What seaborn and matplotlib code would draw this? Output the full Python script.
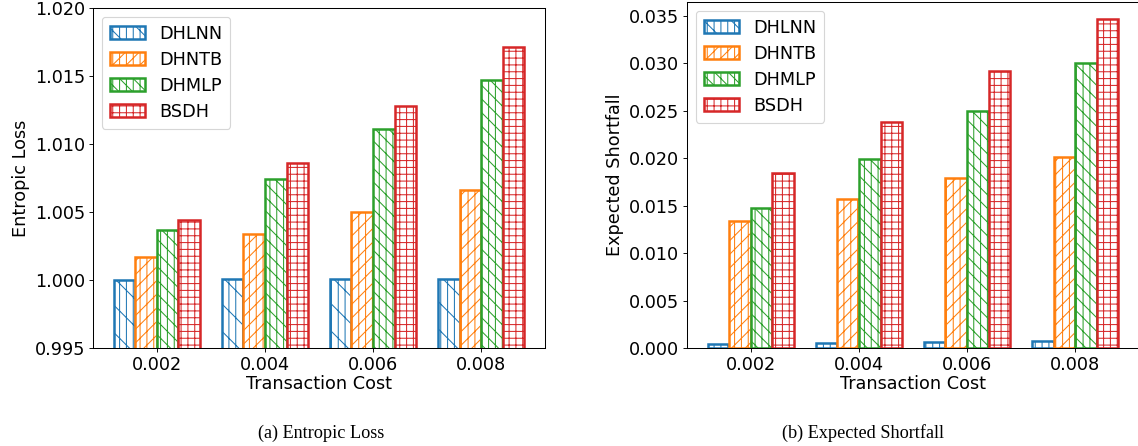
import matplotlib
matplotlib.use("Agg")
import matplotlib.pyplot as plt
import matplotlib.ticker as mticker
import seaborn as sns
import pandas as pd

sns.set_theme(style="ticks", rc={
    'text.color': 'black', 'axes.labelcolor': 'black',
    'xtick.color': 'black', 'ytick.color': 'black',
    'axes.edgecolor': 'black', 'axes.linewidth': 0.9,
})
plt.rcParams['font.family'] = ['DejaVu Sans']
plt.rcParams['hatch.linewidth'] = 0.9

costs = ['0.002', '0.004', '0.006', '0.008']
methods = ['DHLNN', 'DHNTB', 'DHMLP', 'BSDH']
colors = ['#1f77b4', '#ff7f0e', '#2ca02c', '#d62728']
hatches = ['||\\', '||//', '||\\\\', '++']

entropic = {
    'DHLNN': [1.00003, 1.00005, 1.00008, 1.0001],
    'DHNTB': [1.0017, 1.0034, 1.0050, 1.0066],
    'DHMLP': [1.0037, 1.0074, 1.0111, 1.0147],
    'BSDH':  [1.0044, 1.0086, 1.0128, 1.0171],
}
shortfall = {
    'DHLNN': [0.0004, 0.0005, 0.0006, 0.0007],
    'DHNTB': [0.0134, 0.0157, 0.0179, 0.0201],
    'DHMLP': [0.0148, 0.0199, 0.0250, 0.0301],
    'BSDH':  [0.0185, 0.0238, 0.0292, 0.0347],
}

FS = 15.5


def long_df(d):
    rows = []
    for m in methods:
        for c, v in zip(costs, d[m]):
            rows.append({'Transaction Cost': c, 'Method': m, 'value': v})
    return pd.DataFrame(rows)


def draw(ax, d, ylabel):
    df = long_df(d)
    sns.barplot(data=df, x='Transaction Cost', y='value', hue='Method',
                hue_order=methods, palette=colors, ax=ax, legend=False)
    for cont, col, h, m in zip(ax.containers, colors, hatches, methods):
        for p in cont:
            p.set_facecolor('white')
            p.set_hatch(h)
            p.set_edgecolor(col)
            p.set_linewidth(2.2)
        cont.set_label(m)
    ax.legend(handles=list(ax.containers), labels=methods, loc='upper left',
              fontsize=FS, handlelength=2.0, borderpad=0.45, labelspacing=0.45)
    ax.set_xlim(-0.59, 3.59)
    ax.set_xlabel('Transaction Cost', fontsize=FS, labelpad=1)
    ax.set_ylabel(ylabel, fontsize=FS)
    ax.tick_params(labelsize=FS, length=3.5, width=0.8)


W, H = 1138, 446
DPI = 82
fig = plt.figure(figsize=(W / DPI, H / DPI), dpi=DPI)
ax1 = fig.add_axes([93 / W, (H - 348) / H, 452 / W, 340 / H])
ax2 = fig.add_axes([687 / W, (H - 348) / H, 452 / W, 346 / H])

draw(ax1, entropic, 'Entropic Loss')
ax1.set_ylim(0.995, 1.020)
ax1.set_yticks([0.995, 1.000, 1.005, 1.010, 1.015, 1.020])
ax1.yaxis.set_major_formatter(mticker.FormatStrFormatter('%.3f'))

draw(ax2, shortfall, 'Expected Shortfall')
ax2.set_ylim(0, 0.03648)
ax2.set_yticks([0.0, 0.005, 0.010, 0.015, 0.020, 0.025, 0.030, 0.035])
ax2.yaxis.set_major_formatter(mticker.FormatStrFormatter('%.3f'))

fig.text(321 / W, 1 - 433 / H, '(a) Entropic Loss', ha='center', va='center',
         fontsize=16, family=['Liberation Serif'])
fig.text(863 / W, 1 - 433 / H, '(b) Expected Shortfall', ha='center', va='center',
         fontsize=16, family=['Liberation Serif'])

fig.savefig('out.png', dpi=DPI)
